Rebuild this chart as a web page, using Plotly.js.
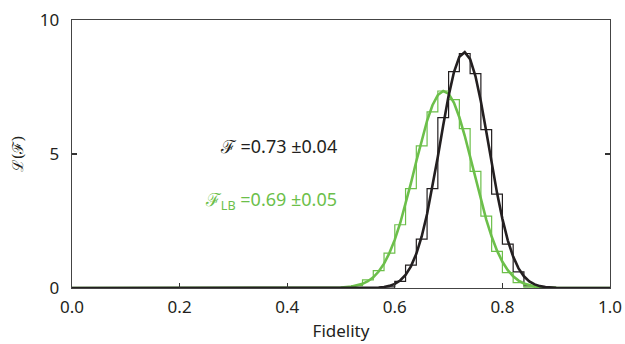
<!DOCTYPE html>
<html>
<head>
<meta charset="utf-8">
<script src="https://cdn.plot.ly/plotly-3.0.1.min.js"></script>
<style>html,body{margin:0;padding:0;background:#fff;}#chart{width:625px;height:344px;}</style>
</head>
<body>
<div id="chart"></div>
<script>
// Histogram bins (width 0.02), left edges and heights
const binWidth = 0.02;
const blackBinStart = 0.58;
const blackHist = [0.04, 0.25, 0.85, 1.82, 3.71, 6.36, 8.07, 8.75, 8.0, 5.91, 3.5, 1.64, 0.6, 0.08];
const greenBinStart = 0.50;
const greenHist = [0.02, 0.09, 0.30, 0.65, 1.30, 2.36, 3.71, 5.30, 6.57, 7.35, 7.03, 5.95, 4.35, 2.68, 1.37, 0.57, 0.20, 0.03];

// Fitted curves
const blackCurveX = [0.0, 0.50, 0.55, 0.57, 0.58, 0.59, 0.60, 0.61, 0.62, 0.63, 0.64, 0.65, 0.66, 0.67, 0.68, 0.69, 0.70, 0.71, 0.72, 0.73, 0.74, 0.75, 0.76, 0.77, 0.78, 0.79, 0.80, 0.81, 0.82, 0.83, 0.84, 0.85, 0.86, 0.87, 0.88, 0.89, 0.90, 0.92, 1.0];
const blackCurveY = [0.0, 0.0, 0.004, 0.019, 0.039, 0.079, 0.153, 0.279, 0.487, 0.808, 1.277, 1.923, 2.759, 3.768, 4.90, 6.075, 7.17, 8.06, 8.63, 8.80, 8.54, 7.90, 6.96, 5.84, 4.67, 3.55, 2.58, 1.78, 1.17, 0.733, 0.437, 0.248, 0.134, 0.069, 0.034, 0.016, 0.007, 0.001, 0.0];
const greenCurveX = [0.0, 0.45, 0.48, 0.50, 0.52, 0.53, 0.54, 0.55, 0.56, 0.57, 0.58, 0.59, 0.60, 0.61, 0.62, 0.63, 0.64, 0.65, 0.66, 0.67, 0.68, 0.69, 0.70, 0.71, 0.72, 0.73, 0.74, 0.75, 0.76, 0.77, 0.78, 0.79, 0.80, 0.81, 0.82, 0.83, 0.84, 0.85, 0.86, 0.87, 0.88, 0.90, 0.92, 1.0];
const greenCurveY = [0.0, 0.0004, 0.004, 0.015, 0.052, 0.091, 0.154, 0.253, 0.40, 0.614, 0.910, 1.303, 1.805, 2.416, 3.127, 3.91, 4.73, 5.53, 6.24, 6.82, 7.20, 7.35, 7.25, 6.91, 6.37, 5.68, 4.89, 4.07, 3.28, 2.55, 1.92, 1.394, 0.98, 0.666, 0.438, 0.278, 0.170, 0.101, 0.058, 0.032, 0.017, 0.0045, 0.001, 0.0];

const xTicks = [0, 0.2, 0.4, 0.6, 0.8, 1.0];
const xTickText = ['0.0', '0.2', '0.4', '0.6', '0.8', '1.0'];
const yTicks = [0, 5, 10];
const yTickText = ['0', '5', '10'];

const labelBlack = 'ℱ =0.73 ±0.04';
const labelGreen = 'ℱ<sub>LB</sub> =0.69 ±0.05';

const BLACK = '#231f20';
const GREEN = '#6cbf4a';

function stairs(start, vals) {
  const x = [start], y = [0];
  for (let i = 0; i < vals.length; i++) {
    x.push(start + i * binWidth);
    y.push(vals[i]);
  }
  x.push(start + vals.length * binWidth);
  y.push(0);
  return {x, y};
}
const bs = stairs(blackBinStart, blackHist);
const gs = stairs(greenBinStart, greenHist);

const data = [
  {x: bs.x, y: bs.y, type: 'scatter', mode: 'lines', line: {shape: 'hv', color: BLACK, width: 1.2}, hoverinfo: 'skip'},
  {x: gs.x, y: gs.y, type: 'scatter', mode: 'lines', line: {shape: 'hv', color: GREEN, width: 1.2}, hoverinfo: 'skip'},
  {x: greenCurveX, y: greenCurveY, type: 'scatter', mode: 'lines', line: {color: GREEN, width: 2.6}, hoverinfo: 'skip'},
  {x: blackCurveX, y: blackCurveY, type: 'scatter', mode: 'lines', line: {color: BLACK, width: 2.6}, hoverinfo: 'skip'}
];

const FONT = 'Noto Sans, Open Sans, sans-serif';
const layout = {
  width: 625, height: 344,
  margin: {l: 72, r: 15, t: 20, b: 56},
  paper_bgcolor: '#fff', plot_bgcolor: '#fff',
  showlegend: false,
  font: {family: FONT, color: '#231f20', size: 17},
  xaxis: {
    range: [0, 1], tickvals: xTicks, ticktext: xTickText,
    ticks: 'inside', ticklen: 5, tickwidth: 1.3, tickcolor: '#333',
    showline: true, linecolor: '#444', linewidth: 1.3, mirror: true,
    showgrid: false, zeroline: false, ticklabelstandoff: 3,
    tickfont: {family: FONT, size: 17, color: '#231f20'},
    title: {text: 'Fidelity', font: {family: FONT, size: 17, color: '#231f20'}, standoff: 8}
  },
  yaxis: {
    range: [0, 10], tickvals: yTicks, ticktext: yTickText,
    ticks: 'inside', ticklen: 5, tickwidth: 1.3, tickcolor: '#333',
    showline: true, linecolor: '#444', linewidth: 1.3, mirror: 'ticks',
    showgrid: false, zeroline: false, ticklabelstandoff: 8,
    tickfont: {family: FONT, size: 17, color: '#231f20'},
    title: {text: 'ℒ(ℱ)', font: {family: 'DejaVu Serif, serif', size: 15, color: '#231f20'}, standoff: 12}
  },
  annotations: [
    {x: 0.496, y: 5.29, xref: 'x', yref: 'y', xanchor: 'right', yanchor: 'middle', showarrow: false,
     text: labelBlack, font: {family: FONT, size: 18, color: BLACK}},
    {x: 0.496, y: 3.27, xref: 'x', yref: 'y', xanchor: 'right', yanchor: 'middle', showarrow: false,
     text: labelGreen, font: {family: FONT, size: 18, color: GREEN}}
  ]
};

Plotly.newPlot('chart', data, layout, {staticPlot: true, displayModeBar: false});
</script>
</body>
</html>
